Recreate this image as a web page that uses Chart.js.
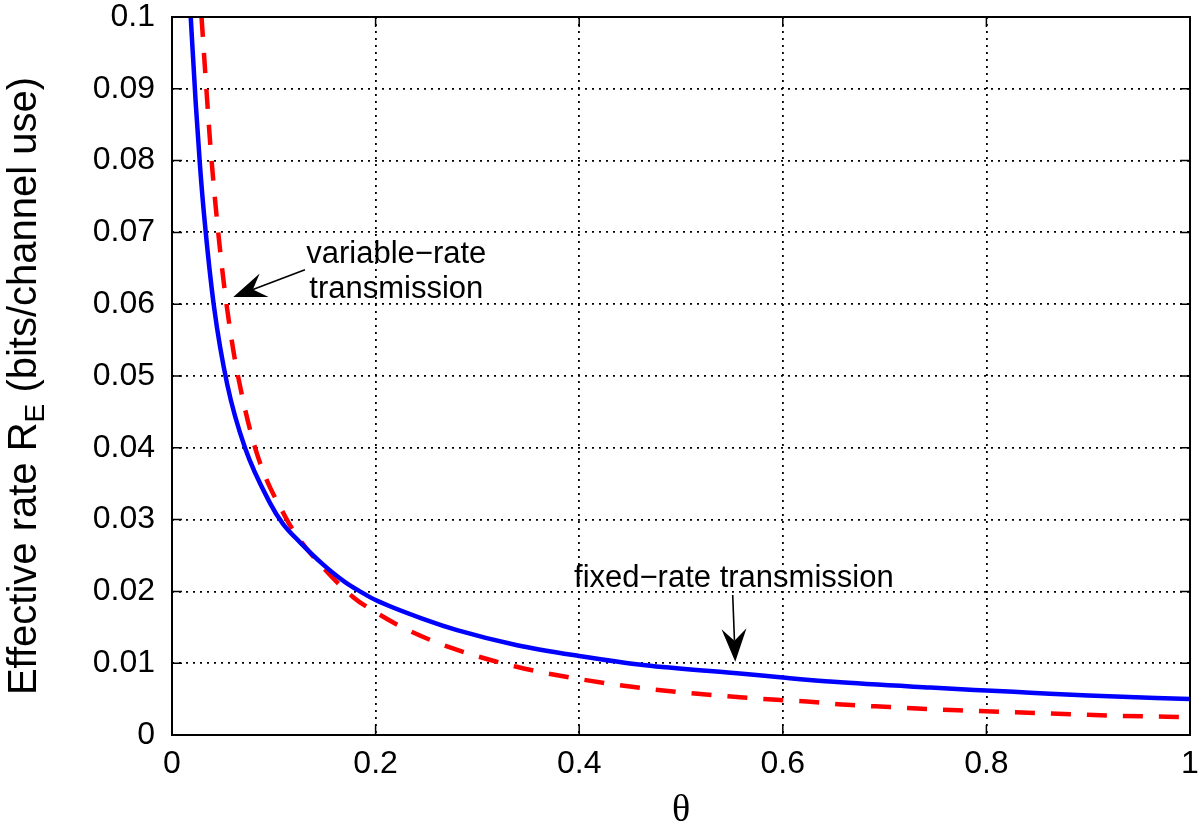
<!DOCTYPE html>
<html>
<head>
<meta charset="utf-8">
<script src="https://cdn.jsdelivr.net/npm/chart.js@4.4.1/dist/chart.umd.min.js"></script>
<style>
  html, body { margin: 0; padding: 0; background: #fff; }
  canvas { display: block; }
</style>
</head>
<body>
<canvas id="grafico" width="1200" height="834"></canvas>
<script>
// -----------------------DADOS---------------------

// fixed-rate (azul, linha cheia)
const thetaFixed = [0.0184, 0.0233, 0.0275, 0.0314, 0.0413, 0.0543, 0.0717, 0.0963, 0.109, 0.126, 0.148, 0.17, 0.186, 0.2,
    0.25, 0.28, 0.339, 0.4, 0.465, 0.555, 0.6, 0.65, 0.745, 0.8, 0.843, 0.9, 1.0]
const rateFixed = [0.1, 0.088, 0.0793, 0.0726, 0.0596, 0.0488, 0.040, 0.0323, 0.0294, 0.0268, 0.0238, 0.0213, 0.0199, 0.0188,
    0.0160, 0.0146, 0.0125, 0.0110, 0.0097, 0.0086, 0.0080, 0.0074, 0.0066, 0.0062, 0.0059, 0.0055, 0.0050]

// variable-rate (vermelho, tracejado)
const thetaVariable = [0.029, 0.034, 0.0383, 0.048, 0.056, 0.064, 0.0825, 0.112, 0.126, 0.148, 0.178, 0.2, 0.2305, 0.273,
    0.3386, 0.4, 0.47, 0.519, 0.555, 0.594, 0.63, 0.663, 0.705, 0.746, 0.782, 0.82, 0.862, 0.921, 0.977, 1.0]
const rateVariable = [0.1, 0.0895, 0.081, 0.0665, 0.0575, 0.0506, 0.0396, 0.0302, 0.0271, 0.0234, 0.0192, 0.0171, 0.0147, 0.0122,
    0.0095, 0.0078, 0.0064, 0.0057, 0.0053, 0.0049, 0.0046, 0.0042, 0.0039, 0.0036, 0.0034, 0.0032, 0.0030, 0.0027, 0.00255, 0.0025]

const xTickLabels = ['0', '0.2', '0.4', '0.6', '0.8', '1']
const yTickLabels = ['0', '0.01', '0.02', '0.03', '0.04', '0.05', '0.06', '0.07', '0.08', '0.09', '0.1']

const fonte = '"Liberation Sans", Arial, Helvetica, sans-serif'

//---------------------------------------------------------------

function pontos(xs, ys) {
    return xs.map((v, i) => ({ x: v, y: ys[i] }))
}

function seta(ctx, x1, y1, x2, y2) {
    // seta estilo matlab (ponta com entalhe)
    const ang = Math.atan2(y2 - y1, x2 - x1)
    const L = 33, W = 12.5, N = 21
    const c = Math.cos(ang), s = Math.sin(ang)
    const bx = x2 - L * c, by = y2 - L * s
    const nx = x2 - N * c, ny = y2 - N * s
    ctx.beginPath()
    ctx.moveTo(x1, y1)
    ctx.lineTo(nx, ny)
    ctx.lineWidth = 1.6
    ctx.strokeStyle = '#000'
    ctx.stroke()
    ctx.beginPath()
    ctx.moveTo(x2, y2)
    ctx.lineTo(bx - W * s, by + W * c)
    ctx.lineTo(nx, ny)
    ctx.lineTo(bx + W * s, by - W * c)
    ctx.closePath()
    ctx.fillStyle = '#000'
    ctx.fill()
}

const moldura = {
    id: 'moldura',
    afterDraw(chart) {
        const ctx = chart.ctx
        const a = chart.chartArea
        const x = chart.scales.x
        const y = chart.scales.y
        ctx.save()

        //marcas para dentro
        ctx.strokeStyle = '#000'
        ctx.lineWidth = 1.5
        ctx.setLineDash([])
        ctx.beginPath()
        x.ticks.forEach(t => {
            const px = x.getPixelForValue(t.value)
            ctx.moveTo(px, a.bottom); ctx.lineTo(px, a.bottom - 10)
            ctx.moveTo(px, a.top); ctx.lineTo(px, a.top + 10)
        })
        y.ticks.forEach(t => {
            const py = y.getPixelForValue(t.value)
            ctx.moveTo(a.left, py); ctx.lineTo(a.left + 10, py)
            ctx.moveTo(a.right, py); ctx.lineTo(a.right - 10, py)
        })
        ctx.stroke()

        //caixa
        ctx.lineWidth = 2
        ctx.strokeRect(a.left, a.top, a.right - a.left, a.bottom - a.top)

        //titulo do eixo y com subscrito
        const partes = [
            ['Effective rate R', '40px ' + fonte, 0],
            ['E', '28px ' + fonte, 8],
            [' (bits/channel use)', '40px ' + fonte, 0]
        ]
        let total = 0
        partes.forEach(p => { ctx.font = p[1]; total += ctx.measureText(p[0]).width })
        ctx.translate(36, 386)
        ctx.rotate(-Math.PI / 2)
        ctx.fillStyle = '#000'
        ctx.textBaseline = 'alphabetic'
        ctx.textAlign = 'left'
        let pos = -total / 2
        partes.forEach(p => {
            ctx.font = p[1]
            ctx.fillText(p[0], pos, p[2])
            pos += ctx.measureText(p[0]).width
        })
        ctx.setTransform(1, 0, 0, 1, 0, 0)

        //anotacoes
        ctx.font = '31px ' + fonte
        ctx.fillStyle = '#000'
        ctx.textAlign = 'center'
        ctx.textBaseline = 'alphabetic'
        ctx.fillText('variable\u2212rate', x.getPixelForValue(0.2203), y.getPixelForValue(0.0657))
        ctx.fillText('transmission', x.getPixelForValue(0.2203), y.getPixelForValue(0.0608))
        seta(ctx, x.getPixelForValue(0.1306), y.getPixelForValue(0.0648), x.getPixelForValue(0.0602), y.getPixelForValue(0.0610))

        ctx.fillText('fixed\u2212rate transmission', x.getPixelForValue(0.5519), y.getPixelForValue(0.02057))
        seta(ctx, x.getPixelForValue(0.5508), y.getPixelForValue(0.0195), x.getPixelForValue(0.5533), y.getPixelForValue(0.0102))

        ctx.restore()
    }
}

const ctx = document.getElementById('grafico')

new Chart(ctx, {
    type: 'line',
    data: {
        datasets: [{
            label: 'fixed-rate transmission',
            data: pontos(thetaFixed, rateFixed),
            borderColor: '#0000ff',
            borderWidth: 4.5,
            pointRadius: 0,
            fill: false,
            cubicInterpolationMode: 'monotone'
        }, {
            label: 'variable-rate transmission',
            data: pontos(thetaVariable, rateVariable),
            borderColor: '#ff0000',
            borderWidth: 4.5,
            borderDash: [20, 16],
            borderCapStyle: 'butt',
            pointRadius: 0,
            fill: false,
            cubicInterpolationMode: 'monotone'
        }]
    },
    options: {
        responsive: false,
        animation: false,
        layout: { padding: { top: 17, right: 10, left: 0, bottom: 0 } },
        plugins: {
            legend: { display: false },
            tooltip: { enabled: false }
        },
        scales: {
            x: {
                type: 'linear',
                min: 0,
                max: 1,
                ticks: {
                    stepSize: 0.2,
                    padding: 10,
                    color: '#000',
                    font: { family: fonte, size: 32 },
                    callback: (v, i) => xTickLabels[i]
                },
                grid: { color: '#000', lineWidth: 1.8, drawTicks: false },
                border: { display: false, dash: [2, 5] },
                title: {
                    display: true,
                    text: '\u03b8',
                    color: '#000',
                    font: { family: '"Liberation Serif", "Times New Roman", serif', size: 38 },
                    padding: { top: 0, bottom: 0 }
                },
                afterFit: s => { s.height = 99; s.paddingLeft = 0; s.paddingRight = 0 }
            },
            y: {
                type: 'linear',
                min: 0,
                max: 0.1,
                ticks: {
                    stepSize: 0.01,
                    padding: 17,
                    color: '#000',
                    font: { family: fonte, size: 32 },
                    callback: (v, i) => yTickLabels[i]
                },
                grid: { color: '#000', lineWidth: 1.8, drawTicks: false },
                border: { display: false, dash: [2, 5] },
                afterFit: s => { s.width = 172; s.paddingTop = 0; s.paddingBottom = 0 }
            }
        }
    },
    plugins: [moldura]
})
</script>
</body>
</html>
